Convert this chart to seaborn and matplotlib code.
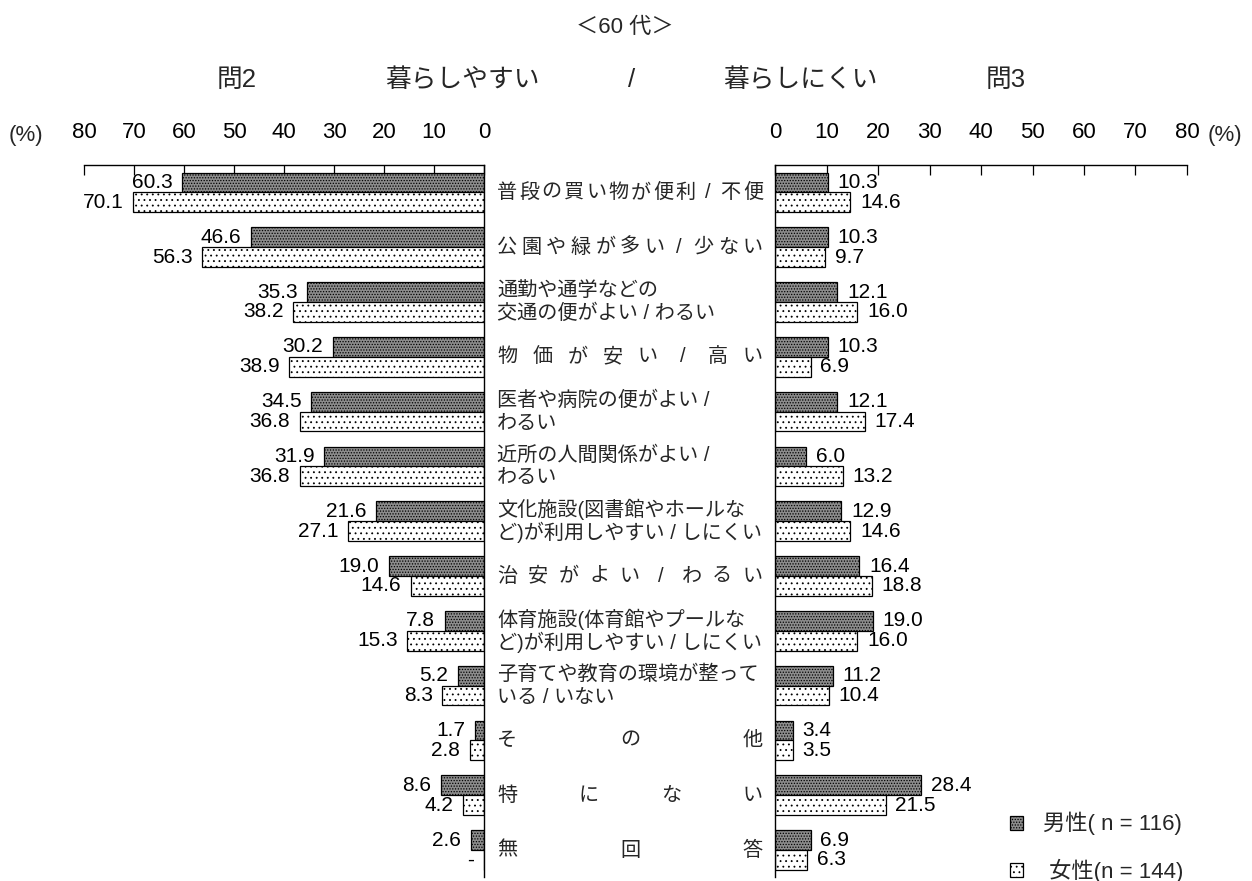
import matplotlib
matplotlib.use("Agg")
import matplotlib.pyplot as plt
import pandas as pd
import seaborn as sns
from matplotlib.patches import Patch

# ---- data -------------------------------------------------------------
categories = [
    "普段の買い物が便利 / 不便",
    "公園や緑が多い / 少ない",
    "通勤や通学などの\n交通の便がよい / わるい",
    "物価が安い / 高い",
    "医者や病院の便がよい /\nわるい",
    "近所の人間関係がよい /\nわるい",
    "文化施設(図書館やホールな\nど)が利用しやすい / しにくい",
    "治安がよい / わるい",
    "体育施設(体育館やプールな\nど)が利用しやすい / しにくい",
    "子育てや教育の環境が整って\nいる / いない",
    "その他",
    "特にない",
    "無回答",
]
groups = ["男性", "女性"]
legend_labels = ["男性( n = 116)", " 女性(n = 144)"]

# 問2 暮らしやすい理由 (%)
male_easy = [60.3, 46.6, 35.3, 30.2, 34.5, 31.9, 21.6, 19.0, 7.8, 5.2, 1.7, 8.6, 2.6]
female_easy = [70.1, 56.3, 38.2, 38.9, 36.8, 36.8, 27.1, 14.6, 15.3, 8.3, 2.8, 4.2, 0.0]
# 問3 暮らしにくい理由 (%)
male_hard = [10.3, 10.3, 12.1, 10.3, 12.1, 6.0, 12.9, 16.4, 19.0, 11.2, 3.4, 28.4, 6.9]
female_hard = [14.6, 9.7, 16.0, 6.9, 17.4, 13.2, 14.6, 18.8, 16.0, 10.4, 3.5, 21.5, 6.3]

pct_ticks = [0, 10, 20, 30, 40, 50, 60, 70, 80]

title = "＜60 代＞"
header_items = [("問2", 237), ("暮らしやすい", 462), ("/", 632),
                ("暮らしにくい", 800), ("問3", 1006)]

# ---- style ------------------------------------------------------------
sns.set_style("white")
plt.rcParams["font.family"] = ["Liberation Sans", "Noto Sans CJK JP"]
plt.rcParams["hatch.linewidth"] = 0.6

W, H = 1252, 881
DPI = 100
fig = plt.figure(figsize=(W / DPI, H / DPI), dpi=DPI)
fig.patch.set_facecolor("white")


def px_box(x0, y0, x1, y1):
    return [x0 / W, 1 - y1 / H, (x1 - x0) / W, (y1 - y0) / H]


ax_l = fig.add_axes(px_box(84, 165, 484, 877.4))
ax_r = fig.add_axes(px_box(775, 165, 1187, 877.4))

palette = ["#8c8c8c", "#ffffff"]
hatches = ["......", "..."]
VALUE_FS = 15
LABEL_FS = 14.5


def fmt(v):
    return "-" if v == 0 else f"{v:.1f}"


def draw_panel(ax, male, female, side):
    n = len(categories)
    df = pd.DataFrame({
        "category": categories * 2,
        "group": [groups[0]] * n + [groups[1]] * n,
        "value": list(male) + list(female),
    })
    sns.barplot(data=df, x="value", y="category", hue="group",
                order=categories, hue_order=groups, orient="h",
                palette=palette, saturation=1, width=0.72,
                edgecolor="black", linewidth=0.9, errorbar=None,
                legend=False, ax=ax)
    for container, hatch, vals in zip(ax.containers, hatches, [male, female]):
        for bar, v in zip(container, vals):
            bar.set_hatch(hatch)
            y = bar.get_y() + bar.get_height() / 2
            dx = -7 if side == "left" else 7
            ax.annotate(fmt(v), (v, y), xytext=(dx, 0),
                        textcoords="offset points",
                        ha="right" if side == "left" else "left",
                        va="center", fontsize=VALUE_FS, color="black")

    ax.set_ylim(len(categories) - 0.5, -0.5)
    if side == "left":
        ax.set_xlim(80, 0)
        ax.spines["left"].set_visible(False)
    else:
        ax.set_xlim(0, 80)
        ax.spines["right"].set_visible(False)
    ax.spines["bottom"].set_visible(False)
    for sp in ax.spines.values():
        sp.set_color("black")
        sp.set_linewidth(1.0)
    ax.xaxis.tick_top()
    ax.set_xticks(pct_ticks)
    ax.set_xticklabels([str(t) for t in pct_ticks])
    ax.tick_params(axis="x", direction="in", length=7, width=0.9,
                   pad=15.5, labelsize=16, colors="black")
    ax.set_yticks([])
    ax.set_xlabel("")
    ax.set_ylabel("")
    ax.set_facecolor("white")


draw_panel(ax_l, male_easy, female_easy, "left")
draw_panel(ax_r, male_hard, female_hard, "right")

# ---- category labels in the centre column -----------------------------
X0, X1 = 497, 763
em_px = LABEL_FS * DPI / 72
coords = ("figure fraction", "data")

for i, label in enumerate(categories):
    if "\n" in label:
        lines = label.split("\n")
        offs = [11.5, -11.5]
        for line, off in zip(lines, offs):
            ax_l.annotate(line, (X0 / W, i), xycoords=coords,
                          xytext=(0, off * 72 / DPI), textcoords="offset points",
                          ha="left", va="center", fontsize=LABEL_FS,
                          annotation_clip=False)
    else:
        # spread the characters evenly across the column width
        chars = [c for c in label if c != " "]
        step = (X1 - X0 - em_px) / max(len(chars) - 1, 1)
        for k, c in enumerate(chars):
            xc = X0 + em_px / 2 + k * step
            ax_l.annotate(c, (xc / W, i), xycoords=coords,
                          ha="center", va="center", fontsize=LABEL_FS,
                          annotation_clip=False)

# ---- titles and headers -----------------------------------------------
fig.text(625 / W, 1 - 27 / H, title, ha="center", va="center", fontsize=16)
for text, xc in header_items:
    fig.text(xc / W, 1 - 80 / H, text, ha="center", va="center", fontsize=18.5)
fig.text(26 / W, 1 - 135 / H, "(%)", ha="center", va="center", fontsize=16)
fig.text(1225 / W, 1 - 135 / H, "(%)", ha="center", va="center", fontsize=16)

# ---- legend -----------------------------------------------------------
handles = [Patch(facecolor=c, edgecolor="black", hatch=h, linewidth=0.9)
           for c, h in zip(palette, hatches)]
fig.legend(handles, legend_labels, loc="upper left",
           bbox_to_anchor=(1010 / W, 1 - 812 / H), frameon=False,
           fontsize=16, handlelength=0.6, handleheight=0.6,
           handletextpad=0.9, labelspacing=1.05, borderpad=0,
           borderaxespad=0)

fig.savefig("out.png", dpi=DPI, facecolor="white")
